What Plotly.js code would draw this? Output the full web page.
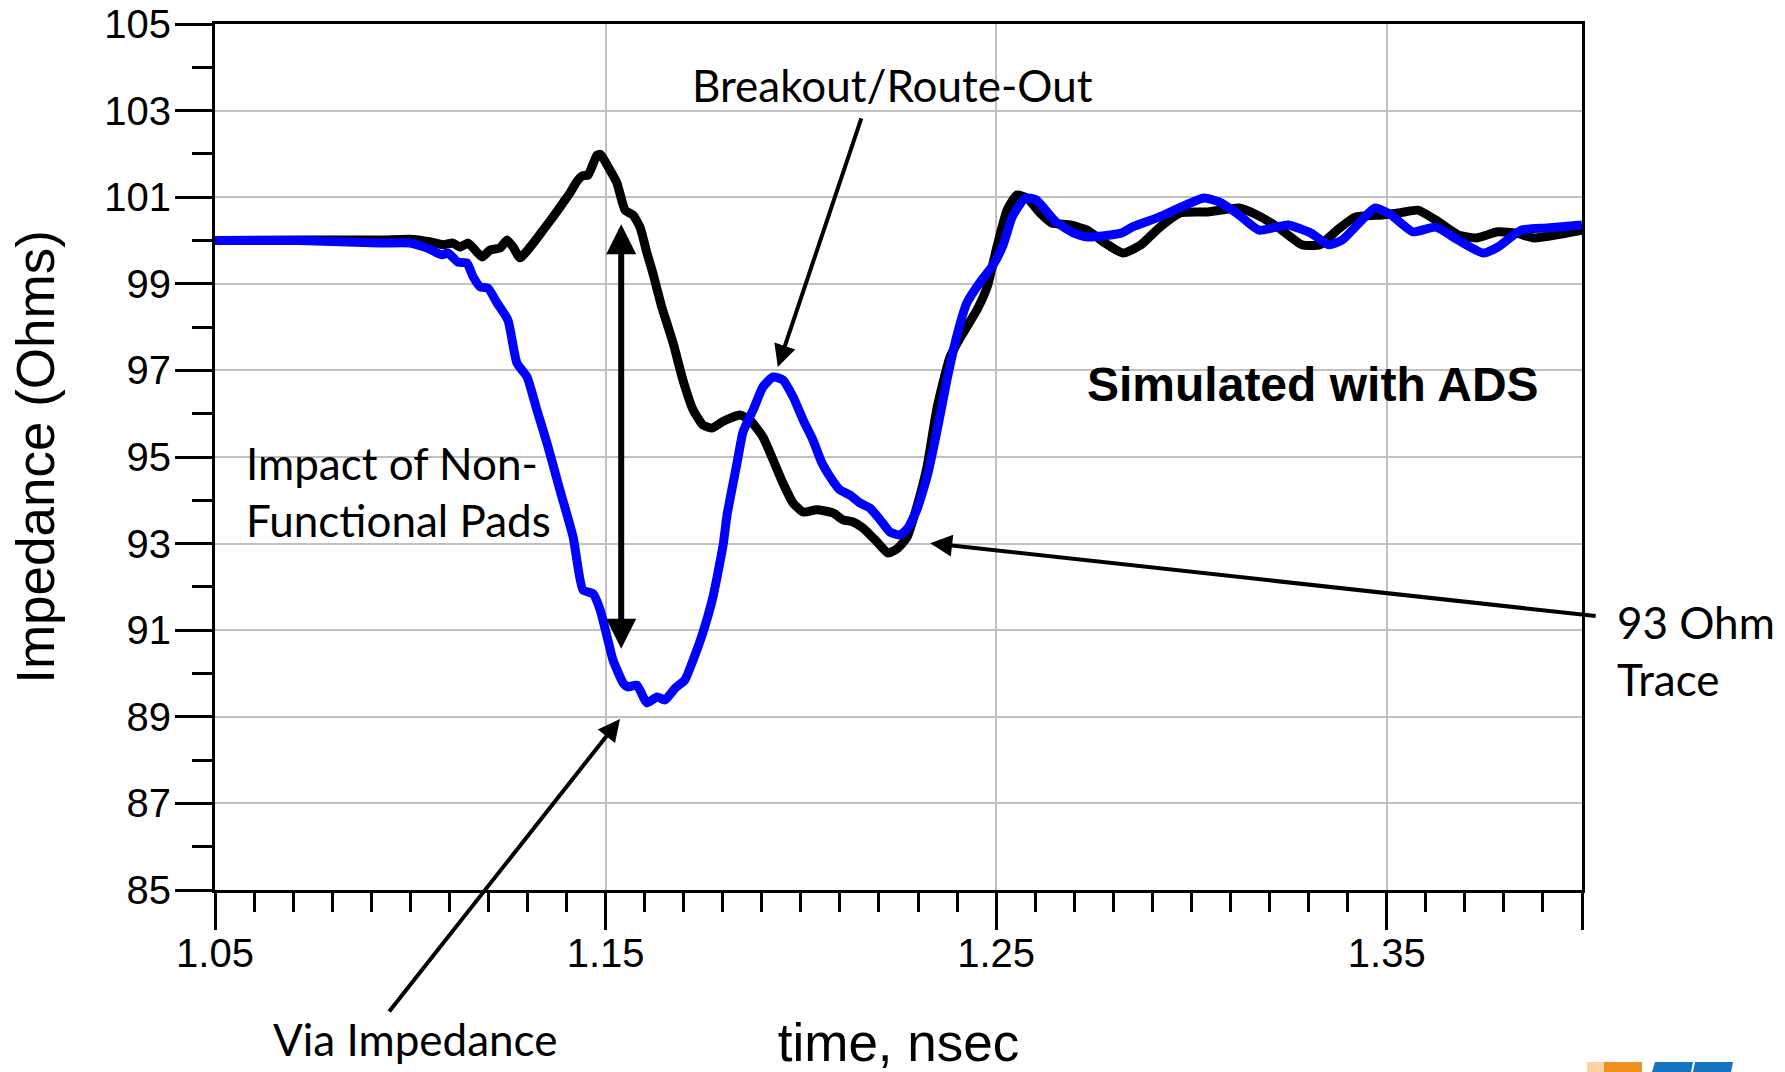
<!DOCTYPE html>
<html>
<head>
<meta charset="utf-8">
<script src="https://cdn.plot.ly/plotly-3.0.1.min.js"></script>
<style>html,body{margin:0;padding:0;background:#fff;}#chart{width:1785px;height:1072px;}</style>
</head>
<body>
<div id="chart"></div>
<script>
// time (nsec) and impedance (Ohms) for the black trace
const blackTime = [1.050,1.0718,1.0922,1.0999,1.1050,1.1084,1.1109,1.1127,1.1148,1.1161,
  1.1184,1.1204,1.1230,1.1248,1.1263,1.1281,1.1307,1.1340,1.1365,1.1391,
  1.1409,1.1427,1.1440,1.1455,1.1465,1.1478,1.1486,1.1493,1.1511,1.1529,
  1.1550,1.1570,1.1588,1.1606,1.1621,1.1644,1.1657,1.1673,1.1698,1.1724,
  1.1749,1.1773,1.1798,1.1844,1.1870,1.1903,1.1929,1.1954,1.1980,1.2006,
  1.2041,1.2082,1.2108,1.2134,1.2159,1.2195,1.2223,1.2249,1.2272,1.2297,
  1.2323,1.2349,1.2382,1.2415,1.2451,1.2477,1.2502,1.2528,1.2553,1.2579,
  1.2612,1.2643,1.2689,1.2733,1.2779,1.2825,1.2871,1.2917,1.2973,1.3042,
  1.3122,1.3168,1.3224,1.3283,1.3329,1.3373,1.3419,1.3488,1.3534,1.3580,
  1.3626,1.3683,1.3729,1.3785,1.3831,1.3877,1.3934,1.4000];
const blackZ = [100.0,100.01,100.01,100.03,99.97,99.90,99.94,99.85,99.94,99.83,
  99.62,99.78,99.83,100.01,99.85,99.60,99.85,100.24,100.54,100.87,
  101.10,101.37,101.49,101.51,101.70,101.97,101.99,101.91,101.63,101.33,
  100.70,100.59,100.31,99.71,99.25,98.46,98.09,97.63,96.78,96.09,
  95.74,95.67,95.81,95.97,95.85,95.46,94.93,94.40,93.94,93.73,
  93.78,93.71,93.55,93.50,93.36,93.04,92.78,92.90,93.15,93.85,
  94.77,96.15,97.31,97.86,98.40,98.93,99.85,100.70,101.05,100.98,
  100.64,100.40,100.36,100.24,99.94,99.71,99.90,100.29,100.64,100.66,
  100.75,100.59,100.29,99.90,99.90,100.24,100.54,100.59,100.64,100.70,
  100.47,100.13,100.06,100.20,100.17,100.06,100.13,100.24];

// time (nsec) and impedance (Ohms) for the blue trace
const blueTime = [1.050,1.0718,1.0922,1.0999,1.1050,1.1081,1.1097,1.1122,1.1145,1.1161,
  1.1179,1.1199,1.1222,1.1250,1.1273,1.1299,1.1324,1.1350,1.1383,1.1417,
  1.1442,1.1468,1.1486,1.1506,1.1519,1.1545,1.1557,1.1580,1.1606,1.1632,
  1.1652,1.1678,1.1703,1.1724,1.1749,1.1775,1.1801,1.1811,1.1837,1.1852,
  1.1878,1.1903,1.1929,1.1954,1.1980,1.2006,1.2031,1.2054,1.2075,1.2100,
  1.2126,1.2151,1.2177,1.2203,1.2228,1.2254,1.2274,1.2297,1.2323,1.2349,
  1.2374,1.2400,1.2425,1.2459,1.2492,1.2518,1.2541,1.2574,1.2602,1.2653,
  1.2699,1.2733,1.2820,1.2848,1.2917,1.2973,1.3032,1.3071,1.3122,1.3173,
  1.3247,1.3306,1.3352,1.3386,1.3432,1.3470,1.3511,1.3567,1.3626,1.3683,
  1.3747,1.3785,1.3844,1.3910,1.4000];
const blueZ = [100.0,100.0,99.94,99.94,99.80,99.67,99.71,99.50,99.48,99.16,
  98.93,98.90,98.56,98.16,97.17,96.85,96.09,95.32,94.24,93.15,
  91.93,91.84,91.47,90.77,90.31,89.78,89.69,89.73,89.32,89.46,
  89.39,89.66,89.85,90.31,90.94,91.77,92.97,93.66,94.88,95.58,
  96.09,96.62,96.85,96.78,96.39,95.85,95.39,94.86,94.54,94.24,
  94.12,93.94,93.82,93.55,93.27,93.20,93.36,93.78,94.54,95.62,
  96.78,97.82,98.56,99.04,99.43,99.90,100.54,100.98,100.94,100.43,
  100.17,100.08,100.17,100.31,100.54,100.77,100.98,100.89,100.59,100.24,
  100.36,100.17,99.90,100.01,100.43,100.75,100.59,100.20,100.31,100.01,
  99.71,99.85,100.24,100.29,100.36];

const xTickVals = [1.05, 1.15, 1.25, 1.35, 1.40];
const xTickText = ['1.05', '1.15', '1.25', '1.35', ''];

const calibri = 'Lato, "Open Sans", sans-serif';
const arial = '"Liberation Sans", Arial, sans-serif';

const traces = [
  {x: blackTime, y: blackZ, type: 'scatter', mode: 'lines', name: 'with NFP',
   line: {color: '#000000', width: 9, shape: 'spline', smoothing: 0.5}},
  {x: blueTime, y: blueZ, type: 'scatter', mode: 'lines', name: 'without NFP',
   line: {color: '#0000ff', width: 9, shape: 'spline', smoothing: 0.5}}
];

// paper-coordinate helpers for text placement (plot area 215..1582 x 24..890)
function px(xp){ return (xp - 215) / 1367; }
function py(yp){ return (890 - yp) / 866; }

const annotations = [
  {xref:'paper', yref:'paper', x: px(892), y: py(85), text:'Breakout/Route-Out', showarrow:false,
   font:{family: calibri, size: 44, color:'#000'}, xanchor:'center', yanchor:'middle'},
  {xref:'paper', yref:'paper', x: px(1313), y: py(385), text:'<b>Simulated with ADS</b>', showarrow:false,
   font:{family: arial, size: 48, color:'#000'}, xanchor:'center', yanchor:'middle'},
  {xref:'paper', yref:'paper', x: px(244), y: py(492), text:'Impact of Non-<br>Functional Pads', showarrow:false,
   align:'left', font:{family: calibri, size: 44, color:'#000'}, xanchor:'left', yanchor:'middle'},
  {xref:'paper', yref:'paper', x: px(415), y: py(1039), text:'Via Impedance', showarrow:false,
   font:{family: calibri, size: 44, color:'#000'}, xanchor:'center', yanchor:'middle'},
  {xref:'paper', yref:'paper', x: px(1615), y: py(650), text:'93 Ohm<br>Trace', showarrow:false,
   align:'left', font:{family: calibri, size: 44, color:'#000'}, xanchor:'left', yanchor:'middle'},
  // arrows
  {x: 1.1941, y: 97.08, xref:'x', yref:'y', ax: 84, ay: -250, text:'', showarrow:true,
   arrowhead:2, arrowsize:1.1, arrowwidth:4, arrowcolor:'#000'},
  {x: 1.1540, y: 90.57, xref:'x', yref:'y', ax: 0, ay: -426, text:'', showarrow:true,
   arrowside:'end+start', arrowhead:2, startarrowhead:2, arrowsize:1.0, startarrowsize:1.0,
   arrowwidth:6, arrowcolor:'#000'},
  {x: 1.1537, y: 88.95, xref:'x', yref:'y', ax: -232, ay: 294, text:'', showarrow:true,
   arrowhead:2, arrowsize:1.1, arrowwidth:4, arrowcolor:'#000'},
  {x: 1.2331, y: 93.01, xref:'x', yref:'y', ax: 667, ay: 73, text:'', showarrow:true,
   arrowhead:2, arrowsize:1.1, arrowwidth:4, arrowcolor:'#000'}
];

// partial logo at the bottom-right edge
const shapes = [
  {type:'rect', xref:'paper', yref:'paper', x0: px(1587), x1: px(1605), y0: py(1072), y1: py(1062),
   fillcolor:'#f9d3a3', line:{width:0}},
  {type:'rect', xref:'paper', yref:'paper', x0: px(1604), x1: px(1642), y0: py(1072), y1: py(1062),
   fillcolor:'#f0901e', line:{width:0}},
  {type:'path', xref:'paper', yref:'paper',
   path: 'M ' + px(1652) + ' ' + py(1072) + ' L ' + px(1655) + ' ' + py(1062) + ' L ' + px(1693) + ' ' + py(1062) + ' L ' + px(1691) + ' ' + py(1072) + ' Z',
   fillcolor:'#1673c4', line:{width:0}},
  {type:'path', xref:'paper', yref:'paper',
   path: 'M ' + px(1693) + ' ' + py(1072) + ' L ' + px(1695) + ' ' + py(1062) + ' L ' + px(1733) + ' ' + py(1062) + ' L ' + px(1731) + ' ' + py(1072) + ' Z',
   fillcolor:'#1673c4', line:{width:0}}
];

const layout = {
  width: 1785, height: 1072,
  margin: {l: 215, r: 203, t: 24, b: 182, pad: 0},
  paper_bgcolor: '#ffffff', plot_bgcolor: '#ffffff',
  showlegend: false,
  font: {family: arial, color: '#000'},
  xaxis: {
    range: [1.05, 1.40], tickmode: 'array', tickvals: xTickVals, ticktext: xTickText,
    ticks: 'outside', ticklen: 37, tickwidth: 3, tickcolor: '#000',
    ticklabelstandoff: -11,
    showline: true, linecolor: '#000', linewidth: 3, mirror: true,
    showgrid: true, gridcolor: '#c0c0c0', gridwidth: 2,
    zeroline: false,
    tickfont: {family: arial, size: 40, color: '#000'},
    minor: {dtick: 0.01, tick0: 1.05, ticks: 'outside', ticklen: 19, tickwidth: 3, tickcolor: '#000', showgrid: false},
    title: {text: 'time, nsec', font: {family: arial, size: 53, color: '#000'}, standoff: 63}
  },
  yaxis: {
    range: [85, 105], tickmode: 'linear', tick0: 85, dtick: 2,
    ticks: 'outside', ticklen: 37, tickwidth: 3, tickcolor: '#000',
    ticklabelstandoff: -4,
    showline: true, linecolor: '#000', linewidth: 3, mirror: true,
    showgrid: true, gridcolor: '#c0c0c0', gridwidth: 2,
    zeroline: false,
    tickfont: {family: arial, size: 40, color: '#000'},
    minor: {dtick: 1, tick0: 85, ticks: 'outside', ticklen: 20, tickwidth: 3, tickcolor: '#000', showgrid: false},
    title: {text: 'Impedance (Ohms)', font: {family: arial, size: 53, color: '#000'}, standoff: 33}
  },
  annotations: annotations,
  shapes: shapes
};

Plotly.newPlot('chart', traces, layout, {displayModeBar: false, staticPlot: true});
</script>
</body>
</html>
